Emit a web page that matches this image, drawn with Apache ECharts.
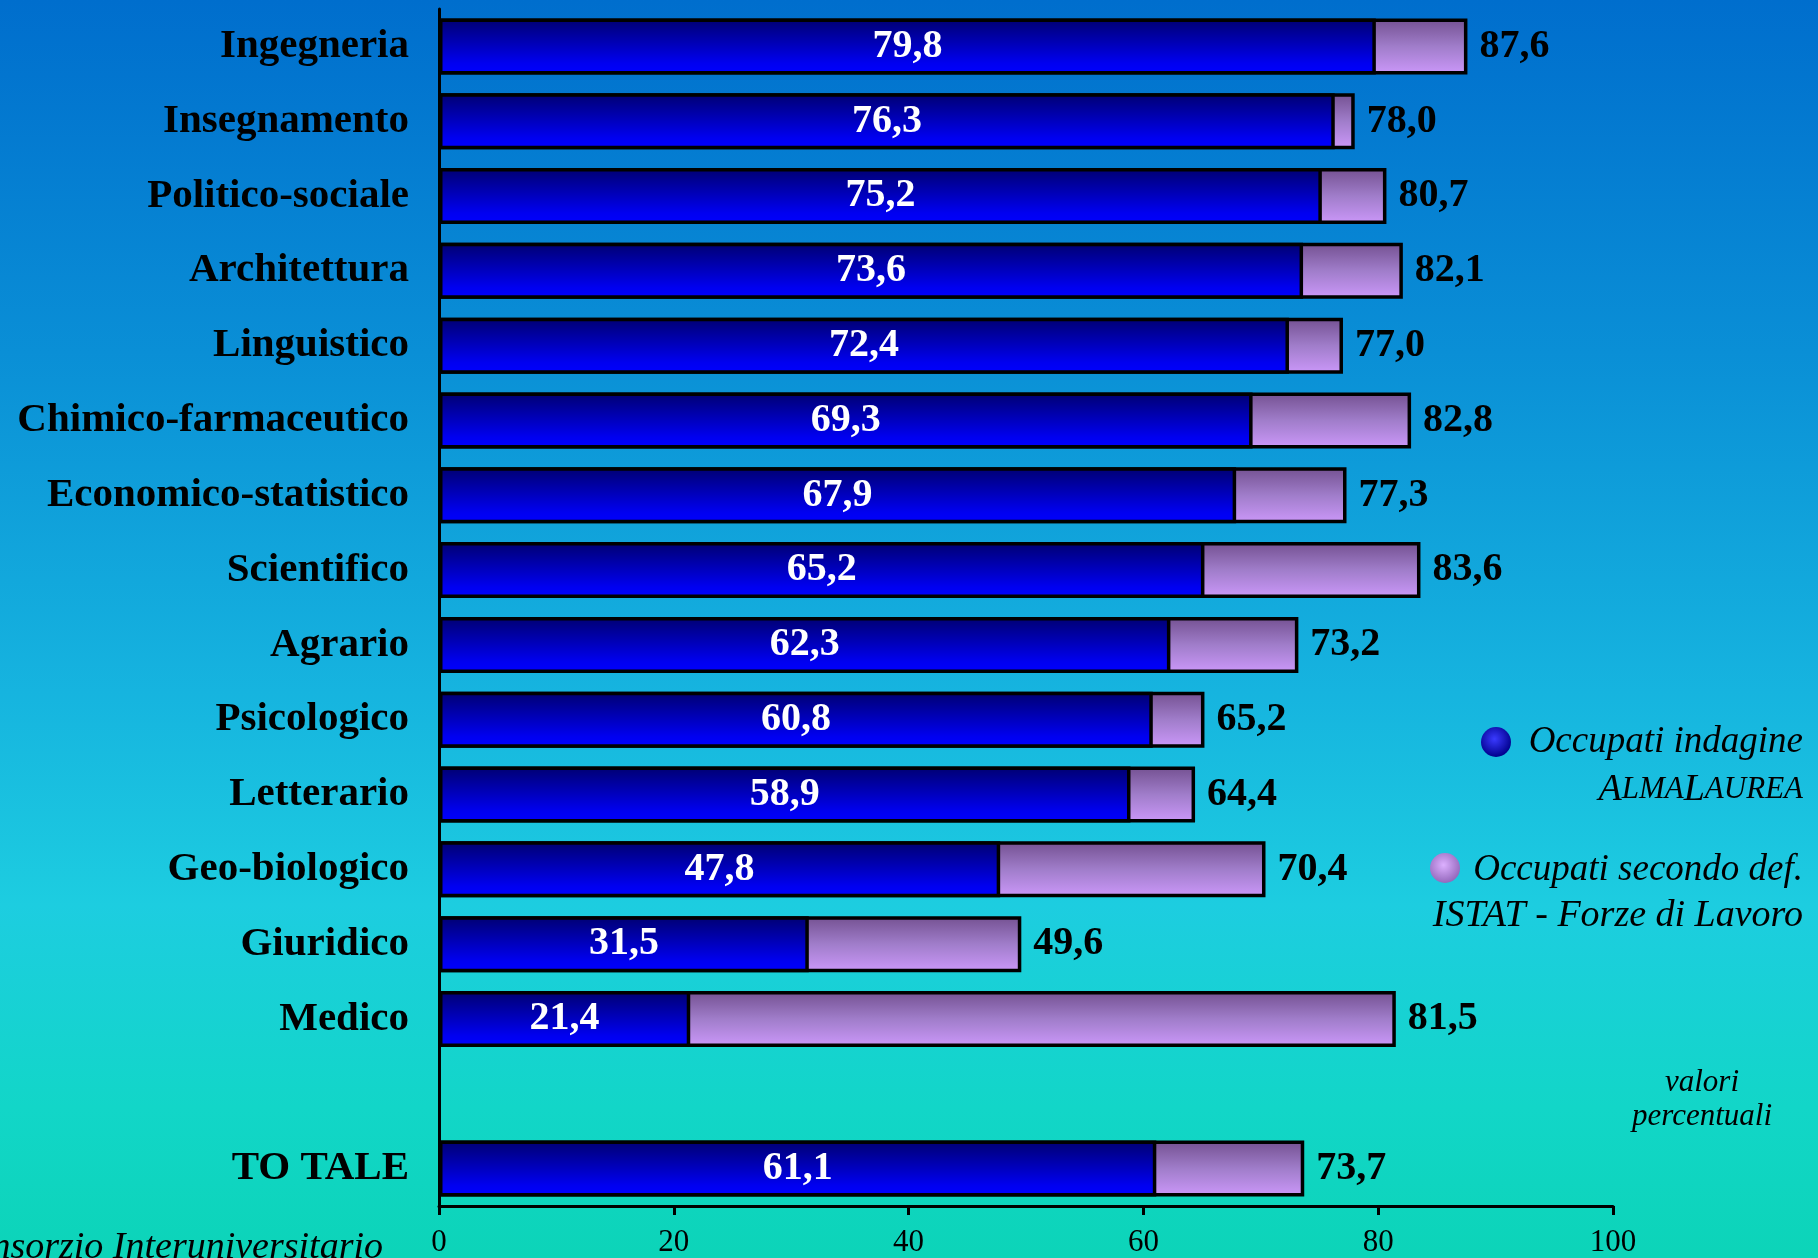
<!DOCTYPE html>
<html>
<head>
<meta charset="utf-8">
<script src="https://cdn.jsdelivr.net/npm/echarts@6/dist/echarts.min.js"></script>
<style>
  html, body { margin: 0; padding: 0; }
  #chart {
    width: 1818px; height: 1258px;
    background: linear-gradient(to bottom, #006ecd 0%, #0a8fd6 28%, #16b4df 55%, #1dcde0 72%, #12d6c8 88%, #0cd4b8 100%);
  }
</style>
</head>
<body>
<div id="chart"></div>
<script>
// Gruppi disciplinari (la riga vuota separa il totale)
const categories = [
  'Ingegneria', 'Insegnamento', 'Politico-sociale', 'Architettura', 'Linguistico',
  'Chimico-farmaceutico', 'Economico-statistico', 'Scientifico', 'Agrario',
  'Psicologico', 'Letterario', 'Geo-biologico', 'Giuridico', 'Medico', '', 'TO TALE'
];
// Occupati secondo l'indagine AlmaLaurea (%)
const occupatiAlmaLaurea = [79.8, 76.3, 75.2, 73.6, 72.4, 69.3, 67.9, 65.2, 62.3, 60.8, 58.9, 47.8, 31.5, 21.4, null, 61.1];
// Occupati secondo la definizione ISTAT - Forze di Lavoro (%)
const occupatiIstat = [87.6, 78.0, 80.7, 82.1, 77.0, 82.8, 77.3, 83.6, 73.2, 65.2, 64.4, 70.4, 49.6, 81.5, null, 73.7];
// Scala dell'asse orizzontale
const xMin = 0, xMax = 100, xStep = 20;

const fmt = v => v.toFixed(1).replace('.', ',');
const serif = 'Liberation Serif';

const chart = echarts.init(document.getElementById('chart'), null, { renderer: 'canvas' });

chart.setOption({
  animation: false,
  grid: { left: 439, right: 205, top: 9, bottom: 42 },
  xAxis: {
    type: 'value', min: xMin, max: xMax, interval: xStep,
    axisLine: { show: true, lineStyle: { color: '#000', width: 3 } },
    axisTick: { show: true, length: 9, lineStyle: { color: '#000', width: 3 } },
    splitLine: { show: false },
    axisLabel: { color: '#000', fontFamily: serif, fontSize: 31, margin: 21 }
  },
  yAxis: {
    type: 'category', data: categories, inverse: true,
    axisLine: { show: true, lineStyle: { color: '#000', width: 3 } },
    axisTick: { show: false },
    axisLabel: { color: '#000', fontFamily: serif, fontWeight: 'bold', fontSize: 41, margin: 30 }
  },
  series: [
    {
      name: 'Occupati secondo def. ISTAT - Forze di Lavoro',
      type: 'bar', data: occupatiIstat, barWidth: 56, barGap: '-100%', z: 2,
      itemStyle: {
        borderColor: '#000', borderWidth: 3.5,
        color: { type: 'linear', x: 0, y: 0, x2: 0, y2: 1,
          colorStops: [{ offset: 0, color: '#735090' }, { offset: 0.5, color: '#a07dca' }, { offset: 1, color: '#cc98fa' }] }
      },
      label: {
        show: true, position: 'right', distance: 12,
        color: '#000', fontFamily: serif, fontWeight: 'bold', fontSize: 40,
        formatter: p => fmt(p.value)
      }
    },
    {
      name: 'Occupati indagine AlmaLaurea',
      type: 'bar', data: occupatiAlmaLaurea, barWidth: 56, z: 3,
      itemStyle: {
        borderColor: '#000', borderWidth: 3.5,
        color: { type: 'linear', x: 0, y: 0, x2: 0, y2: 1,
          colorStops: [{ offset: 0, color: '#000070' }, { offset: 0.8, color: '#0000f0' }, { offset: 1, color: '#0000ff' }] }
      },
      label: {
        show: true, position: 'inside',
        color: '#fff', fontFamily: serif, fontWeight: 'bold', fontSize: 40,
        formatter: p => fmt(p.value)
      }
    }
  ],
  graphic: [
    { type: 'circle', shape: { cx: 1496, cy: 742, r: 15 }, z: 10,
      style: { fill: { type: 'radial', x: 0.45, y: 0.4, r: 0.6,
        colorStops: [{ offset: 0, color: '#3a3aff' }, { offset: 1, color: '#00008c' }] } } },
    { type: 'text', x: 1803, y: 742, z: 10,
      style: { text: 'Occupati indagine', fill: '#000', font: 'italic 37px "Liberation Serif"', align: 'right', verticalAlign: 'middle' } },
    { type: 'text', x: 1803, y: 790, z: 10,
      style: { text: '{a|A}{b|LMA}{a|L}{b|AUREA}', align: 'right', verticalAlign: 'middle',
        rich: {
          a: { fill: '#000', fontFamily: serif, fontStyle: 'italic', fontSize: 38 },
          b: { fill: '#000', fontFamily: serif, fontStyle: 'italic', fontSize: 31 }
        } } },
    { type: 'circle', shape: { cx: 1445, cy: 868, r: 15 }, z: 10,
      style: { fill: { type: 'radial', x: 0.45, y: 0.4, r: 0.6,
        colorStops: [{ offset: 0, color: '#dcb0ff' }, { offset: 1, color: '#9468bc' }] } } },
    { type: 'text', x: 1803, y: 870, z: 10,
      style: { text: 'Occupati secondo def.', fill: '#000', font: 'italic 37px "Liberation Serif"', align: 'right', verticalAlign: 'middle' } },
    { type: 'text', x: 1803, y: 916, z: 10,
      style: { text: 'ISTAT - Forze di Lavoro', fill: '#000', font: 'italic 38px "Liberation Serif"', align: 'right', verticalAlign: 'middle' } },
    { type: 'text', x: 1702, y: 1083, z: 10,
      style: { text: 'valori', fill: '#000', font: 'italic 31px "Liberation Serif"', align: 'center', verticalAlign: 'middle' } },
    { type: 'text', x: 1702, y: 1117, z: 10,
      style: { text: 'percentuali', fill: '#000', font: 'italic 31px "Liberation Serif"', align: 'center', verticalAlign: 'middle' } },
    { type: 'text', x: 383, y: 1248, z: 10,
      style: { text: 'Consorzio Interuniversitario', fill: '#000', font: 'italic 38px "Liberation Serif"', align: 'right', verticalAlign: 'middle' } }
  ]
});
</script>
</body>
</html>
